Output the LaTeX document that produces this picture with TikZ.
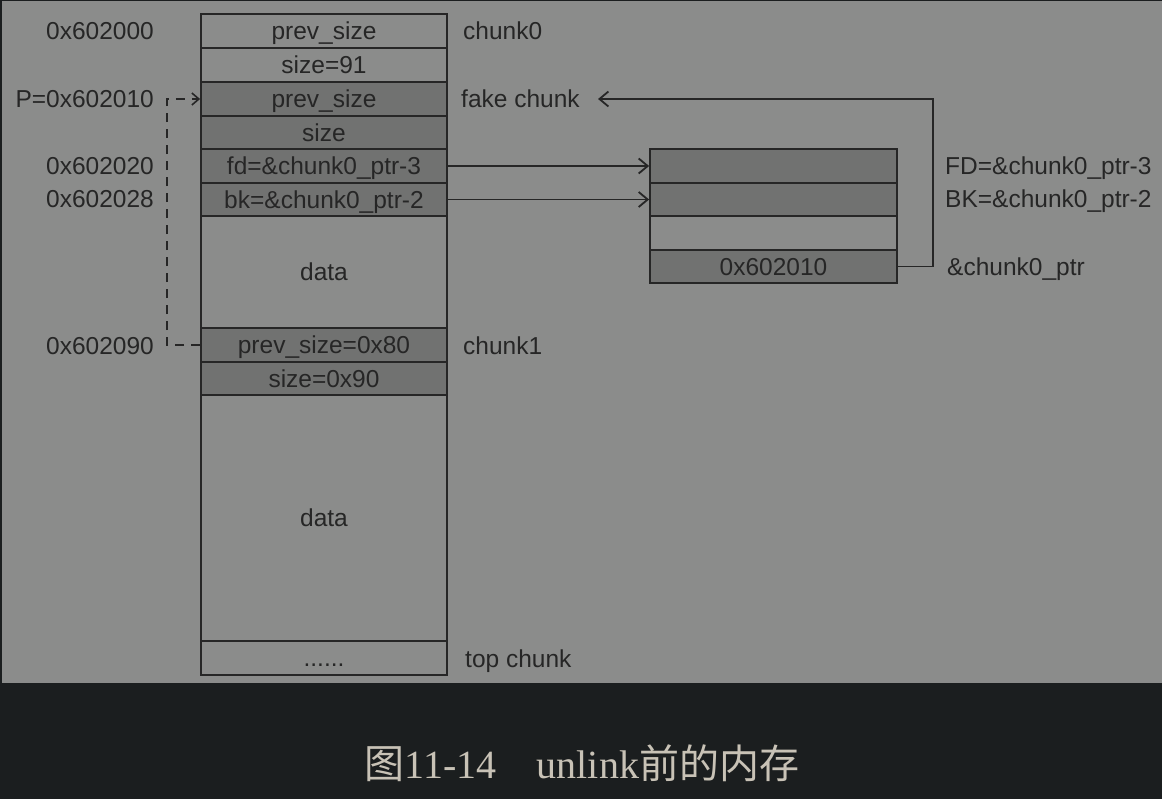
\documentclass[tikz,border=0pt]{standalone}
\usepackage{fontspec}
\setmainfont{Liberation Sans}
\newfontfamily\capfont{Liberation Serif}
\newfontfamily\cjk{Noto Sans CJK SC}
\usetikzlibrary{arrows.meta}
\definecolor{bg}{HTML}{8B8C8B}
\definecolor{dk}{HTML}{717271}
\definecolor{band}{HTML}{1B1E1F}
\definecolor{ln}{HTML}{262626}
\definecolor{captxt}{HTML}{C8C2B6}
\begin{document}
\begin{tikzpicture}[x=1pt,y=-1pt,
  cell/.style={draw=ln, line width=1.8pt, minimum width=246pt, inner sep=0pt,
    font=\fontsize{24.5}{26}\selectfont, text=ln, text height=17.5pt, text depth=0pt},
  dcell/.style={cell, fill=dk},
  lbl/.style={inner sep=0pt, font=\fontsize{24.5}{26}\selectfont, text=ln, text height=17.5pt, text depth=0pt},
  arr/.style={draw=ln, line width=1.8pt, -{Straight Barb[length=9pt,width=15pt,line width=1.8pt]}},
  dsh/.style={draw=ln, line width=1.8pt, dash pattern=on 9pt off 7pt, -{Straight Barb[length=7pt,width=12pt,line width=1.6pt]}}]
\useasboundingbox (0,0) rectangle (1162,799);
\fill[bg] (0,0) rectangle (1162,683);
\fill[band] (0,683) rectangle (1162,799);
\draw[band, line width=3pt] (0,0) -- (1162,0) (0,0) -- (0,683);

% main column
\node[cell, minimum height=34pt] (c0) at (324,31) {prev\_size};
\node[cell, minimum height=34pt] (c1) at (324,65) {size=91};
\node[dcell, minimum height=34pt] (c2) at (324,99) {prev\_size};
\node[dcell, minimum height=33pt] (c3) at (324,132.5) {size};
\node[dcell, minimum height=34pt] (c4) at (324,166) {fd=\&chunk0\_ptr-3};
\node[dcell, minimum height=33pt] (c5) at (324,199.5) {bk=\&chunk0\_ptr-2};
\node[cell, minimum height=112pt] (c6) at (324,272) {data};
\node[dcell, minimum height=34pt] (c7) at (324,345) {prev\_size=0x80};
\node[dcell, minimum height=33pt] (c8) at (324,378.5) {size=0x90};
\node[cell, minimum height=246pt] (c9) at (324,518) {data};
\node[cell, minimum height=34pt] (c10) at (324,658) {......};

% right box
\node[dcell, minimum width=247pt, minimum height=34pt] (r0) at (773.5,166) {};
\node[dcell, minimum width=247pt, minimum height=33pt] (r1) at (773.5,199.5) {};
\node[cell, minimum width=247pt, minimum height=34pt] (r2) at (773.5,233) {};
\node[dcell, minimum width=247pt, minimum height=33pt] (r3) at (773.5,266.5) {0x602010};

% left labels
\node[lbl, anchor=east] (a0) at (154,31) {0x602000};
\node[lbl, anchor=east] (a1) at (154,99) {P=0x602010};
\node[lbl, anchor=east] (a2) at (154,166) {0x602020};
\node[lbl, anchor=east] (a3) at (154,199) {0x602028};
\node[lbl, anchor=east] (a4) at (154,346) {0x602090};

% right labels
\node[lbl, anchor=west] (b0) at (463,31) {chunk0};
\node[lbl, anchor=west] (b1) at (461,99) {fake chunk};
\node[lbl, anchor=west] (b2) at (463,346) {chunk1};
\node[lbl, anchor=west] (b3) at (465,659) {top chunk};
\node[lbl, anchor=west] (d0) at (945,166) {FD=\&chunk0\_ptr-3};
\node[lbl, anchor=west] (d1) at (945,199) {BK=\&chunk0\_ptr-2};
\node[lbl, anchor=west] (d2) at (947,267) {\&chunk0\_ptr};

% connectors
\draw[arr] (c4.east) -- (r0.west);
\draw[arr] (c5.east) -- (r1.west);
\coordinate (fk) at (598,99);
\coordinate (k1) at (933,266.5);
\coordinate (k2) at (933,99);
\draw[arr] (r3.east) -- (k1) -- (k2) -- (fk);
\coordinate (q1) at (167,345);
\coordinate (q2) at (167,99);
\draw[dsh] (c7.west) -- (q1) -- (q2) -- (c2.west);

% caption
\node[inner sep=0pt, text=captxt, font=\fontsize{40}{44}\selectfont] (cap) at (582,763)
  {{\cjk 图}{\capfont 11-14}\hspace{1em}{\capfont unlink}{\cjk 前的内存}};
\end{tikzpicture}
\end{document}
